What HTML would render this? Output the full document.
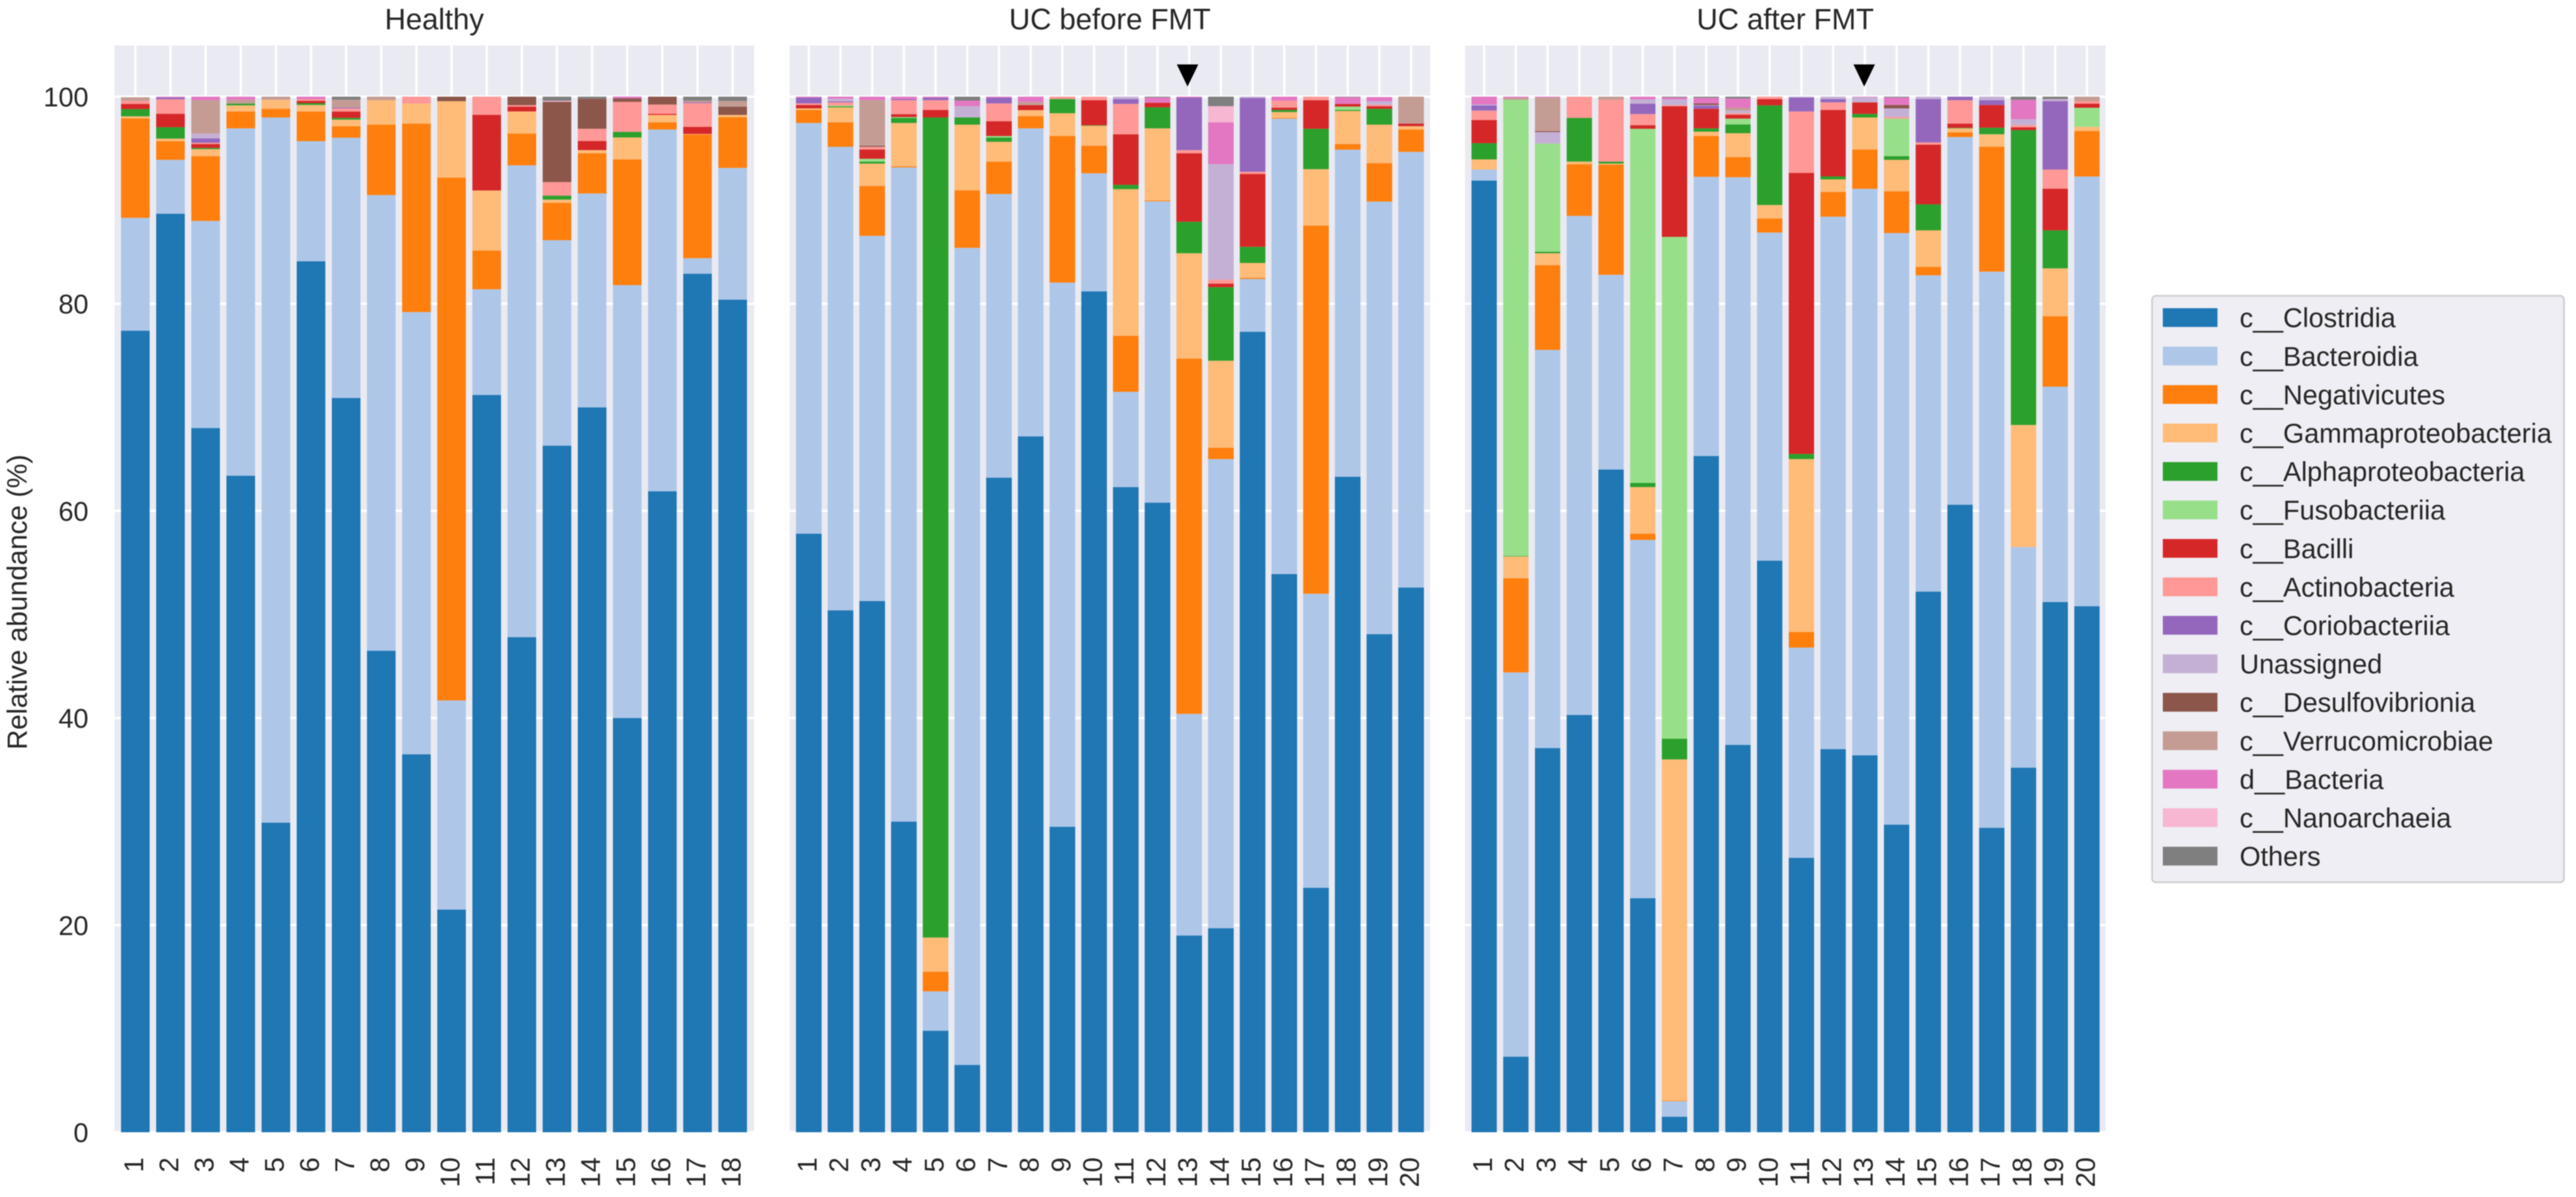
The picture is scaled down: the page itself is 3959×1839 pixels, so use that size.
<!DOCTYPE html>
<html>
<head>
<meta charset="utf-8">
<title>Relative abundance by sample</title>
<style>
html,body{margin:0;padding:0;background:#fff;}
svg{display:block;filter:blur(0.9px);}
text{font-family:"Liberation Sans",Arial,sans-serif;fill:#262626;}
</style>
</head>
<body>
<svg id="chart" xmlns="http://www.w3.org/2000/svg" width="3959" height="1839" viewBox="0 0 3959 1839"></svg>
<script>
// Shared labels
const speciesNames = ["c__Clostridia","c__Bacteroidia","c__Negativicutes","c__Gammaproteobacteria","c__Alphaproteobacteria","c__Fusobacteriia","c__Bacilli","c__Actinobacteria","c__Coriobacteriia","Unassigned","c__Desulfovibrionia","c__Verrucomicrobiae","d__Bacteria","c__Nanoarchaeia","Others"];
const speciesColors = ["#1f77b4","#aec7e8","#ff7f0e","#ffbb78","#2ca02c","#98df8a","#d62728","#ff9896","#9467bd","#c5b0d5","#8c564b","#c49c94","#e377c2","#f7b6d2","#7f7f7f"];
const yTickLabels = [0,20,40,60,80,100];
const healthySamples = [1,2,3,4,5,6,7,8,9,10,11,12,13,14,15,16,17,18];
const ucSamples = [1,2,3,4,5,6,7,8,9,10,11,12,13,14,15,16,17,18,19,20];

// Healthy
const hClostridia = [77.4,88.7,68,63.4,29.9,84.1,70.9,46.5,36.5,21.5,71.2,47.8,66.3,70,40,61.9,82.9,80.4];
const hBacteroidia = [10.9,5.2,20,33.54,68.09,11.6,25.14,44,42.7,20.2,10.2,45.57,19.84,20.65,41.8,34.93,1.5,12.72];
const hNegativicutes = [9.6,1.8,6.26,1.63,.84,2.87,1.11,6.8,18.2,50.48,3.74,3.07,3.61,3.88,12.14,.7,11.95,4.91];
const hGamma = [.2,.25,.67,.59,.87,.63,.63,2.36,1.93,7.38,5.8,2.13,.31,.31,2.12,.71,.05,.21];
const hAlpha = [.7,1.1,.12,.17,0,.17,.17,0,0,0,0,0,.38,0,.54,0,0,0];
const hFuso = [0,0,0,0,0,0,0,0,0,0,0,0,0,0,0,0,0,0];
const hBacilli = [.5,1.3,.38,0,0,.23,.62,0,0,0,7.3,.47,0,.88,0,.1,.69,0];
const hActino = [.3,1.4,.12,0,0,.15,.3,0,.67,0,1.76,.14,1.31,1.18,2.9,.9,2.29,0];
const hCorio = [0,.17,.42,0,0,0,.08,0,0,0,0,0,0,0,0,0,.08,0];
const hUnassigned = [0,0,.47,0,0,0,0,0,0,0,0,0,0,0,0,0,0,0];
const hDesulfo = [0,0,0,0,0,0,0,0,0,.44,0,.82,7.75,2.9,.34,.76,0,.8];
const hVerruco = [.34,0,3.22,.37,.3,0,.75,.34,0,0,0,0,0,0,0,0,.16,.54];
const hBacteria = [0,.08,.34,.3,0,.25,0,0,0,0,0,0,0,0,.17,0,0,0];
const hNano = [0,0,0,0,0,0,0,0,0,0,0,0,.1,0,0,0,0,0];
const hOthers = [0,0,0,0,0,0,.3,0,0,0,0,0,.4,.2,0,0,.38,.42];
const healthySeries = [hClostridia,hBacteroidia,hNegativicutes,hGamma,hAlpha,hFuso,hBacilli,hActino,hCorio,hUnassigned,hDesulfo,hVerruco,hBacteria,hNano,hOthers];

// UC before FMT
const bClostridia = [57.8,50.4,51.3,30,9.8,6.5,63.2,67.2,29.5,81.2,62.3,60.8,19,19.7,77.3,53.9,23.6,63.3,48.1,52.6];
const bBacteroidia = [39.66,44.76,35.26,63.17,3.8,78.9,27.4,29.74,52.55,11.4,9.2,29.1,21.4,45.3,5.1,43.98,28.4,31.58,41.77,42.07];
const bNegativicutes = [1.26,2.37,4.82,.1,1.9,5.56,3.13,1.19,14.15,2.66,5.4,.08,34.3,1.1,.1,.07,35.55,.55,3.71,2.16];
const bGamma = [.15,1.44,2.16,4.19,3.3,6.34,1.91,.57,2.2,1.93,14.17,6.96,10.18,8.4,1.44,.56,5.45,3.19,3.72,.32];
const bAlpha = [0,.1,.19,.49,79.19,.69,.42,0,1.37,.05,.42,2.03,3.04,7.1,1.56,.21,3.9,.1,1.53,0];
const bFuso = [0,.07,.27,.08,0,0,.14,0,0,0,0,0,0,0,0,0,0,.32,0,0];
const bBacilli = [.33,0,.9,.27,.73,0,1.43,.48,0,2.42,4.88,.44,6.61,.35,7.04,.21,2.76,.26,.25,.25];
const bActino = [.15,.31,.26,1.36,.94,0,1.72,0,.23,.34,2.93,0,.31,.38,.21,.69,.34,0,.13,0];
const bCorio = [.57,.1,0,.09,.24,0,.57,0,0,0,.47,0,5.08,0,7.12,0,0,0,0,0];
const bUnassigned = [0,.25,0,0,0,1.09,0,0,0,0,.23,0,0,11.15,.13,0,0,0,.35,0];
const bDesulfo = [0,0,.1,0,0,0,0,0,0,0,0,0,0,0,0,0,0,0,0,0];
const bVerruco = [0,0,4.4,0,0,0,0,.3,0,0,0,0,0,0,0,0,0,0,0,2.6];
const bBacteria = [.08,.2,.34,.25,.1,.54,.08,.52,0,0,0,.51,.08,4.05,0,.38,0,.66,.4,0];
const bNano = [0,0,0,0,0,0,0,0,0,0,0,0,0,1.55,0,0,0,0,0,0];
const bOthers = [0,0,0,0,0,.38,0,0,0,0,0,.08,0,.92,0,0,0,.04,0,0];
const beforeSeries = [bClostridia,bBacteroidia,bNegativicutes,bGamma,bAlpha,bFuso,bBacilli,bActino,bCorio,bUnassigned,bDesulfo,bVerruco,bBacteria,bNano,bOthers];

// UC after FMT
const aClostridia = [91.9,7.3,37.1,40.3,64,22.6,1.5,65.3,37.4,55.2,26.5,37,36.4,29.7,52.2,60.6,29.4,35.2,51.2,50.8];
const aBacteroidia = [1.06,37.1,38.45,48.19,18.8,34.6,1.5,26.96,54.82,31.68,20.3,51.41,54.7,57.13,30.55,35.5,53.7,21.3,20.8,41.49];
const aNegativicutes = [0,9.1,8.18,4.99,10.64,.6,.05,3.94,1.95,1.36,1.5,2.39,3.8,4.03,.81,.46,12.06,0,6.8,4.4];
const aGamma = [.98,2.1,1.15,.25,.1,4.5,32.95,.42,2.3,1.3,16.7,1.21,3.09,3.04,3.53,.38,1.21,11.8,4.62,.4];
const aAlpha = [1.57,.05,.15,4.22,.19,.4,2,.32,.85,9.62,.5,.29,.35,.36,2.51,.05,.63,28.47,3.67,0];
const aFuso = [0,44.05,10.44,0,0,34.2,48.46,0,.56,0,0,0,0,3.62,0,0,0,0,0,1.84];
const aBacilli = [2.23,0,0,0,0,.35,12.62,1.89,.38,.61,27.14,6.42,1.11,0,5.77,.41,2.2,.27,4.02,.4];
const aActino = [.92,0,0,2.05,5.97,1.07,.1,0,.15,.23,5.93,.73,0,.15,.21,2.26,0,.21,1.85,.23];
const aCorio = [.5,0,0,0,0,1.01,0,.31,0,0,1.35,.32,0,0,4.19,.34,.46,0,6.6,0];
const aUnassigned = [.08,0,1.11,0,0,.42,.55,.05,.25,0,.08,.23,.5,.84,.23,0,.34,.57,.21,0];
const aDesulfo = [0,0,.1,0,0,0,0,.15,0,0,0,0,0,.33,0,0,0,0,0,0];
const aVerruco = [0,.2,3.24,0,.3,0,0,0,.27,0,0,0,0,0,0,0,0,0,0,.44];
const aBacteria = [.76,.1,.08,0,0,.25,.2,.55,.9,0,0,0,.05,.72,0,0,0,1.88,0,0];
const aNano = [0,0,0,0,0,0,0,0,0,0,0,0,0,0,0,0,0,0,0,0];
const aOthers = [0,0,0,0,0,0,.07,.11,.17,0,0,0,0,.08,0,0,0,.3,.23,0];
const afterSeries = [aClostridia,aBacteroidia,aNegativicutes,aGamma,aAlpha,aFuso,aBacilli,aActino,aCorio,aUnassigned,aDesulfo,aVerruco,aBacteria,aNano,aOthers];

const NS = "http://www.w3.org/2000/svg";
const svg = document.getElementById("chart");
const AXES_TOP = 70, AXES_BOTTOM = 1741, Y_ZERO = 1739.5, Y_PER_UNIT = 15.91;
const FONT = 41.5;
function yScale(v){ return Y_ZERO - v * Y_PER_UNIT; }
function make(tag, attrs, parent){
  const n = document.createElementNS(NS, tag);
  for (const k in attrs) n.setAttribute(k, attrs[k]);
  (parent || svg).appendChild(n);
  return n;
}

const panels = [
  {key:"healthy", title:"Healthy", left:176, right:1159, barLeft:186, pitch:54.0, barW:44, samples:healthySamples, series:healthySeries, marker:null, markerShift:0},
  {key:"uc-before", title:"UC before FMT", left:1213.5, right:2198, barLeft:1223.3, pitch:48.72, barW:39.4, samples:ucSamples, series:beforeSeries, marker:13, markerShift:-2.5},
  {key:"uc-after", title:"UC after FMT", left:2251.5, right:3236, barLeft:2261.5, pitch:48.76, barW:38.9, samples:ucSamples, series:afterSeries, marker:13, markerShift:-1}
];

panels.forEach(function(p, pi){
  const xCenter = function(i){ return p.barLeft + i * p.pitch + p.barW / 2; };
  const g = make("g", {});
  
  

  const bg = make("rect", {x:p.left, y:AXES_TOP, width:p.right-p.left, height:AXES_BOTTOM-AXES_TOP, fill:"#eaeaf2"}, g);
  
  

  yTickLabels.forEach(function(t){
    const line = make("line", {x1:p.left, x2:p.right, y1:yScale(t), y2:yScale(t), stroke:"#fff", "stroke-width":3.5}, g);
    
    
  });
  p.samples.forEach(function(s, i){
    const line = make("line", {x1:xCenter(i), x2:xCenter(i), y1:AXES_TOP, y2:AXES_BOTTOM, stroke:"#fff", "stroke-width":3.5}, g);
    
    
  });

  p.samples.forEach(function(s, i){
    let base = 0;
    p.series.forEach(function(values, si){
      const v = values[i];
      if (v > 0) {
        const r = make("rect", {x:p.barLeft + i * p.pitch, y:yScale(base + v), width:p.barW, height:v * Y_PER_UNIT, fill:speciesColors[si]}, g);
        
        
      }
      base += v;
    });
    const lbl = make("text", {x:xCenter(i)+12, y:1778, "font-size":FONT, "text-anchor":"end", transform:"rotate(-90 " + (xCenter(i)+12) + " 1778)"}, g);
    lbl.textContent = String(s);
    
    
  });

  const title = make("text", {x:(p.left+p.right)/2, y:45, "font-size":45, "text-anchor":"middle"}, g);
  title.textContent = p.title;
  
  

  if (p.marker !== null) {
    const idx = p.samples.indexOf(p.marker);
    const cx = xCenter(idx) + p.markerShift;
    const tri = make("polygon", {points:(cx-16.5)+",99 "+(cx+16.5)+",99 "+cx+",133", fill:"#000"}, g);
    
    
  }

  if (pi === 0) {
    yTickLabels.forEach(function(t){
      const lbl = make("text", {x:136, y:yScale(t)+15, "font-size":FONT, "text-anchor":"end"}, g);
      lbl.textContent = String(t);
      
      
    });
  }
});

const yTitle = make("text", {x:41, y:925, "font-size":42.5, "text-anchor":"middle", transform:"rotate(-90 41 925)"});
yTitle.textContent = "Relative abundance (%)";



const legend = make("g", {});


const frame = make("rect", {x:3307.5, y:454.5, width:633, height:901, rx:6, ry:6, fill:"#eeeef4", stroke:"#cccccc", "stroke-width":2.5}, legend);


speciesNames.forEach(function(name, i){
  const rowY = 473.5 + i * 59.1;
  const swatch = make("rect", {x:3324, y:rowY, width:84, height:28.8, fill:speciesColors[i]}, legend);
  
  
  const label = make("text", {x:3442, y:rowY+29.2, "font-size":FONT}, legend);
  label.textContent = name;
  
  
});
</script>
</body>
</html>
